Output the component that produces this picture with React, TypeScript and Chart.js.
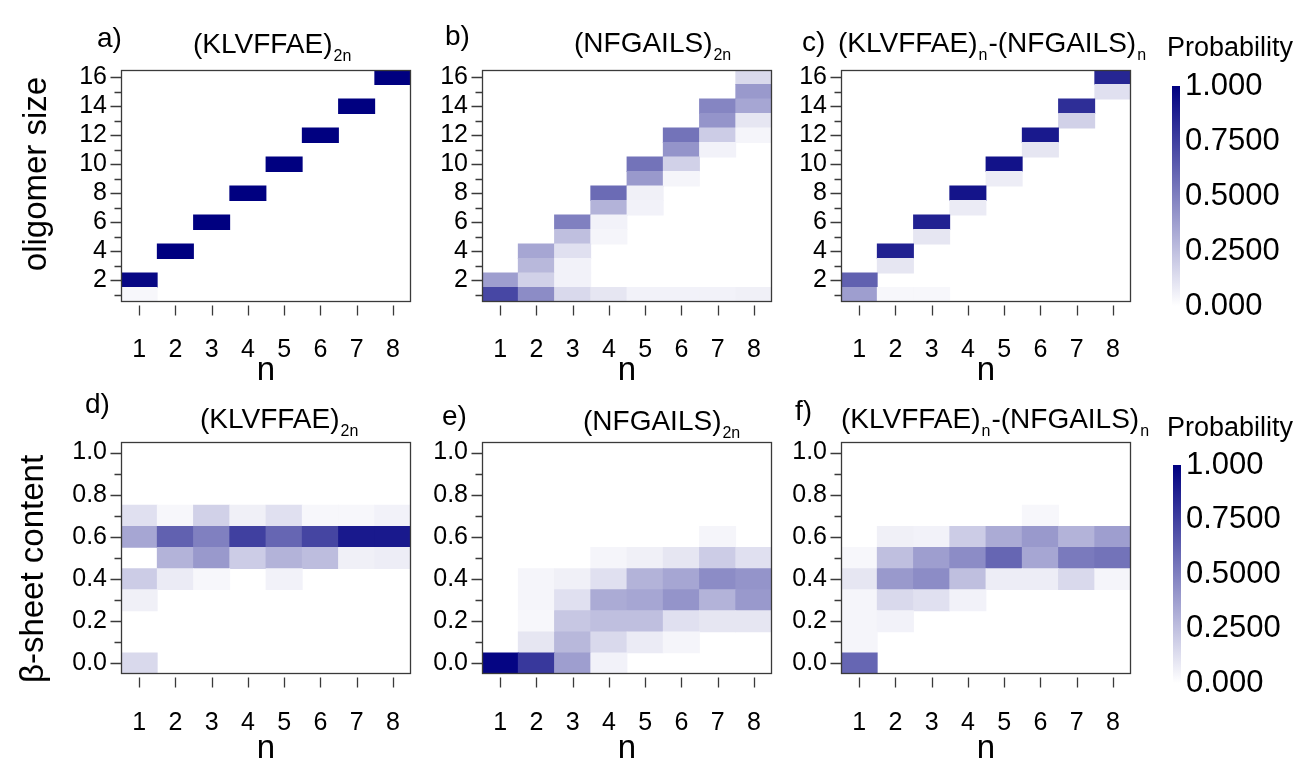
import React, { useEffect, useRef } from 'react';
import { Chart, registerables } from 'chart.js';

Chart.register(...registerables);

const FONT = "'Liberation Sans', Arial, Helvetica, sans-serif";
const TEXT_COLOR = '#000000';
const AXIS_COLOR = '#3a3a3a';

// ---- axes / categories ----
const nValues = ['1', '2', '3', '4', '5', '6', '7', '8'];
const sizeBins = [1, 2, 3, 4, 5, 6, 7, 8, 9, 10, 11, 12, 13, 14, 15, 16];
const sizeTicks = [2, 4, 6, 8, 10, 12, 14, 16];
const sizeMinorTicks = [1, 3, 5, 7, 9, 11, 13, 15];
const betaBins = [0, 0.1, 0.2, 0.3, 0.4, 0.5, 0.6, 0.7, 0.8, 0.9, 1.0];
const betaTicks = [0, 0.2, 0.4, 0.6, 0.8, 1.0];
const betaMinorTicks = [0.1, 0.3, 0.5, 0.7, 0.9];
const probTicks = [0, 0.25, 0.5, 0.75, 1];
const probTickLabels = ['0.000', '0.2500', '0.5000', '0.7500', '1.000'];

// ---- oligomer size probability: rows n = 1..8, columns size = 1..16 ----
const klvffaeSize = [
  [0.03, 0.97, 0, 0, 0, 0, 0, 0, 0, 0, 0, 0, 0, 0, 0, 0],
  [0, 0, 0, 1, 0, 0, 0, 0, 0, 0, 0, 0, 0, 0, 0, 0],
  [0, 0, 0, 0, 0, 1, 0, 0, 0, 0, 0, 0, 0, 0, 0, 0],
  [0, 0, 0, 0, 0, 0, 0, 1, 0, 0, 0, 0, 0, 0, 0, 0],
  [0, 0, 0, 0, 0, 0, 0, 0, 0, 1, 0, 0, 0, 0, 0, 0],
  [0, 0, 0, 0, 0, 0, 0, 0, 0, 0, 0, 1, 0, 0, 0, 0],
  [0, 0, 0, 0, 0, 0, 0, 0, 0, 0, 0, 0, 0, 1, 0, 0],
  [0, 0, 0, 0, 0, 0, 0, 0, 0, 0, 0, 0, 0, 0, 0, 1],
];
const nfgailsSize = [
  [0.72, 0.38, 0, 0, 0, 0, 0, 0, 0, 0, 0, 0, 0, 0, 0, 0],
  [0.45, 0.18, 0.28, 0.35, 0, 0, 0, 0, 0, 0, 0, 0, 0, 0, 0, 0],
  [0.15, 0.05, 0.05, 0.12, 0.25, 0.5, 0, 0, 0, 0, 0, 0, 0, 0, 0, 0],
  [0.1, 0, 0, 0, 0.04, 0.05, 0.3, 0.58, 0, 0, 0, 0, 0, 0, 0, 0],
  [0.05, 0, 0, 0, 0, 0, 0.05, 0.06, 0.4, 0.55, 0, 0, 0, 0, 0, 0],
  [0.05, 0, 0, 0, 0, 0, 0, 0, 0.04, 0.18, 0.42, 0.55, 0, 0, 0, 0],
  [0.05, 0, 0, 0, 0, 0, 0, 0, 0, 0, 0.05, 0.2, 0.42, 0.48, 0, 0],
  [0.06, 0, 0, 0, 0, 0, 0, 0, 0, 0, 0, 0.04, 0.1, 0.35, 0.4, 0.15],
];
const mixedSize = [
  [0.38, 0.62, 0, 0, 0, 0, 0, 0, 0, 0, 0, 0, 0, 0, 0, 0],
  [0.03, 0, 0.1, 0.87, 0, 0, 0, 0, 0, 0, 0, 0, 0, 0, 0, 0],
  [0.03, 0, 0, 0, 0.1, 0.87, 0, 0, 0, 0, 0, 0, 0, 0, 0, 0],
  [0, 0, 0, 0, 0, 0, 0.08, 0.92, 0, 0, 0, 0, 0, 0, 0, 0],
  [0, 0, 0, 0, 0, 0, 0, 0, 0.07, 0.93, 0, 0, 0, 0, 0, 0],
  [0, 0, 0, 0, 0, 0, 0, 0, 0, 0, 0.1, 0.9, 0, 0, 0, 0],
  [0, 0, 0, 0, 0, 0, 0, 0, 0, 0, 0, 0, 0.18, 0.82, 0, 0],
  [0, 0, 0, 0, 0, 0, 0, 0, 0, 0, 0, 0, 0, 0, 0.12, 0.85],
];

// ---- beta-sheet content probability: rows n = 1..8, columns 0.0..1.0 ----
const klvffaeBeta = [
  [0.15, 0, 0, 0.06, 0.2, 0, 0.35, 0.12, 0, 0, 0],
  [0, 0, 0, 0, 0.08, 0.3, 0.62, 0.03, 0, 0, 0],
  [0, 0, 0, 0, 0.03, 0.4, 0.5, 0.18, 0, 0, 0],
  [0, 0, 0, 0, 0, 0.2, 0.75, 0.06, 0, 0, 0],
  [0, 0, 0, 0, 0.05, 0.3, 0.6, 0.12, 0, 0, 0],
  [0, 0, 0, 0, 0, 0.26, 0.73, 0.03, 0, 0, 0],
  [0, 0, 0, 0, 0, 0.06, 0.9, 0.03, 0, 0, 0],
  [0, 0, 0, 0, 0, 0.07, 0.9, 0.05, 0, 0, 0],
];
const nfgailsBeta = [
  [0.98, 0, 0, 0, 0, 0, 0, 0, 0, 0, 0],
  [0.78, 0.1, 0.03, 0.04, 0.04, 0, 0, 0, 0, 0, 0],
  [0.38, 0.28, 0.22, 0.12, 0.06, 0, 0, 0, 0, 0, 0],
  [0.05, 0.15, 0.25, 0.33, 0.12, 0.04, 0, 0, 0, 0, 0],
  [0, 0.08, 0.25, 0.35, 0.3, 0.06, 0, 0, 0, 0, 0],
  [0, 0.04, 0.12, 0.42, 0.35, 0.1, 0, 0, 0, 0, 0],
  [0, 0, 0.1, 0.3, 0.45, 0.2, 0.04, 0, 0, 0, 0],
  [0, 0, 0.1, 0.4, 0.42, 0.12, 0, 0, 0, 0, 0],
];
const mixedBeta = [
  [0.6, 0.04, 0.04, 0.04, 0.1, 0.03, 0, 0, 0, 0, 0],
  [0, 0, 0.05, 0.15, 0.4, 0.25, 0.06, 0, 0, 0, 0],
  [0, 0, 0, 0.12, 0.45, 0.38, 0.05, 0, 0, 0, 0],
  [0, 0, 0, 0.05, 0.25, 0.45, 0.2, 0, 0, 0, 0],
  [0, 0, 0, 0, 0.07, 0.6, 0.33, 0, 0, 0, 0],
  [0, 0, 0, 0, 0.07, 0.35, 0.4, 0.03, 0, 0, 0],
  [0, 0, 0, 0, 0.15, 0.52, 0.3, 0, 0, 0, 0],
  [0, 0, 0, 0, 0.04, 0.55, 0.38, 0, 0, 0, 0],
];

// colour scale: white -> navy
function probColor(v: number): string {
  const t = Math.max(0, Math.min(1, v));
  const r = Math.round(255 * (1 - t));
  const b = Math.round(255 - 127 * t);
  return `rgb(${r},${r},${b})`;
}

type Part = [string, boolean];

type PanelSpec = {
  key: string;
  left: number; top: number; w: number; h: number;
  plotLeft: number; plotRight: number;
  padTop: number; padBottom: number; xHeight: number; xLabelPad: number;
  matrix: number[][]; bins: number[]; half: number;
  yMin: number; yMax: number; yTicks: number[]; yMinor: number[]; decimals: number;
  letter: string; letterX: number; letterY: number;
  title: Part[]; titleX: number; titleY: number;
  yTitle?: string; yTitleX?: number; yTitleY?: number;
  xTitleY: number;
};

const titleKLV: Part[] = [['(KLVFFAE)', false], ['2n', true]];
const titleNFG: Part[] = [['(NFGAILS)', false], ['2n', true]];
const titleMix: Part[] = [['(KLVFFAE)', false], ['n', true], ['-(NFGAILS)', false], ['n', true]];

const topRow = { top: 0, h: 390, padTop: 70, padBottom: 8, xHeight: 80, xLabelPad: 33, xTitleY: 380 };
const botRow = { top: 380, h: 391, padTop: 62, padBottom: 7, xHeight: 90, xLabelPad: 34, xTitleY: 758 };
const sizeAxis = { bins: sizeBins, half: 0.5, yMin: 0.5, yMax: 16.5, yTicks: sizeTicks, yMinor: sizeMinorTicks, decimals: 0 };
const betaAxis = { bins: betaBins, half: 0.05, yMin: -0.05, yMax: 1.05, yTicks: betaTicks, yMinor: betaMinorTicks, decimals: 1 };

const panels: PanelSpec[] = [
  { key: 'a', left: 0, w: 440, plotLeft: 121, plotRight: 411, ...topRow, ...sizeAxis, matrix: klvffaeSize,
    letter: 'a)', letterX: 97, letterY: 47, title: titleKLV, titleX: 193, titleY: 53,
    yTitle: 'oligomer size', yTitleX: 37, yTitleY: 174 },
  { key: 'b', left: 361, w: 440, plotLeft: 482, plotRight: 772, ...topRow, ...sizeAxis, matrix: nfgailsSize,
    letter: 'b)', letterX: 445, letterY: 45, title: titleNFG, titleX: 574, titleY: 52 },
  { key: 'c', left: 720, w: 440, plotLeft: 841, plotRight: 1131, ...topRow, ...sizeAxis, matrix: mixedSize,
    letter: 'c)', letterX: 802, letterY: 51, title: titleMix, titleX: 838, titleY: 52 },
  { key: 'd', left: 0, w: 440, plotLeft: 121, plotRight: 411, ...botRow, ...betaAxis, matrix: klvffaeBeta,
    letter: 'd)', letterX: 85, letterY: 413, title: titleKLV, titleX: 200, titleY: 428,
    yTitle: 'β-sheet content', yTitleX: 34, yTitleY: 569 },
  { key: 'e', left: 361, w: 440, plotLeft: 482, plotRight: 772, ...botRow, ...betaAxis, matrix: nfgailsBeta,
    letter: 'e)', letterX: 442, letterY: 425, title: titleNFG, titleX: 583, titleY: 430 },
  { key: 'f', left: 720, w: 440, plotLeft: 841, plotRight: 1131, ...botRow, ...betaAxis, matrix: mixedBeta,
    letter: 'f)', letterX: 795, letterY: 420, title: titleMix, titleX: 841, titleY: 428 },
];

type BarSpec = { key: string; left: number; top: number; w: number; h: number; barLeft: number; barRight: number; zeroY: number; oneY: number; titleY: number };
const colorbars: BarSpec[] = [
  { key: 'cb1', left: 1150, top: 0, w: 161, h: 390, barLeft: 1172, barRight: 1180, zeroY: 306, oneY: 86, titleY: 56 },
  { key: 'cb2', left: 1150, top: 380, w: 161, h: 391, barLeft: 1173, barRight: 1181, zeroY: 683, oneY: 465, titleY: 436 },
];

const TITLE_SIZE = 28;
const SUB_SIZE = 16;
const TICK_SIZE = 25;
const AXIS_TITLE_SIZE = 33;

function drawParts(ctx: CanvasRenderingContext2D, parts: Part[], x: number, y: number) {
  let cx = x;
  ctx.textAlign = 'left';
  ctx.textBaseline = 'alphabetic';
  for (const [t, sub] of parts) {
    const fs = sub ? SUB_SIZE : TITLE_SIZE;
    ctx.font = `${fs}px ${FONT}`;
    if (sub) cx += 1;
    ctx.fillText(t, cx, sub ? y + 8 : y);
    cx += ctx.measureText(t).width + (sub ? 1 : 0);
  }
}

function decorPlugin(p: PanelSpec) {
  return {
    id: 'decor_' + p.key,
    afterDraw(chart: any) {
      const { ctx, chartArea: a, scales } = chart;
      const xs = scales.x;
      const ys = scales.y;
      ctx.save();
      ctx.strokeStyle = AXIS_COLOR;
      ctx.lineWidth = 1.3;
      const L = Math.round(a.left) + 0.5;
      const R = Math.round(a.right) - 0.5;
      const T = Math.round(a.top) + 0.5;
      const B = Math.round(a.bottom) - 0.5;
      ctx.strokeRect(L, T, R - L, B - T);
      ctx.beginPath();
      p.yTicks.forEach((v) => {
        const py = Math.round(ys.getPixelForValue(v)) + 0.5;
        ctx.moveTo(L - 11, py);
        ctx.lineTo(L, py);
      });
      p.yMinor.forEach((v) => {
        const py = Math.round(ys.getPixelForValue(v)) + 0.5;
        ctx.moveTo(L - 7, py);
        ctx.lineTo(L, py);
      });
      nValues.forEach((_, i) => {
        const px = Math.round(xs.getPixelForValue(i)) + 0.5;
        ctx.moveTo(px, B + 4);
        ctx.lineTo(px, B + 14);
      });
      ctx.stroke();

      ctx.fillStyle = TEXT_COLOR;
      const ox = p.left;
      const oy = p.top;
      // panel letter
      ctx.font = `${TITLE_SIZE}px ${FONT}`;
      ctx.textAlign = 'left';
      ctx.textBaseline = 'alphabetic';
      ctx.fillText(p.letter, p.letterX - ox, p.letterY - oy);
      // panel title with subscripts
      drawParts(ctx, p.title, p.titleX - ox, p.titleY - oy);
      // x title
      ctx.font = `${AXIS_TITLE_SIZE}px ${FONT}`;
      ctx.textAlign = 'center';
      ctx.fillText('n', (a.left + a.right) / 2, p.xTitleY - oy);
      // y title
      if (p.yTitle) {
        ctx.save();
        ctx.translate((p.yTitleX as number) - ox, (p.yTitleY as number) - oy);
        ctx.rotate(-Math.PI / 2);
        ctx.textAlign = 'center';
        ctx.textBaseline = 'middle';
        ctx.fillText(p.yTitle, 0, 0);
        ctx.restore();
      }
      ctx.restore();
    },
  };
}

function heatConfig(p: PanelSpec): any {
  const datasets = p.bins.map((b, j) => ({
    data: nValues.map((_, i) => (p.matrix[i][j] > 0 ? [b - p.half, b + p.half] : null)),
    backgroundColor: nValues.map((_, i) => probColor(p.matrix[i][j])),
    borderWidth: 0,
    grouped: false,
    barPercentage: 1,
    categoryPercentage: 1,
    inflateAmount: 0.4,
  }));
  const yWidth = p.plotLeft - p.left;
  const padRight = p.w - (p.plotRight - p.left);
  return {
    type: 'bar',
    data: { labels: nValues, datasets },
    plugins: [decorPlugin(p)],
    options: {
      animation: false,
      responsive: false,
      maintainAspectRatio: false,
      events: [],
      layout: { padding: { left: 0, right: padRight, top: p.padTop, bottom: p.padBottom } },
      plugins: { legend: { display: false }, tooltip: { enabled: false }, title: { display: false } },
      scales: {
        x: {
          type: 'category',
          offset: true,
          grid: { display: false, drawTicks: false },
          border: { display: false },
          ticks: {
            font: { family: FONT, size: TICK_SIZE },
            color: TEXT_COLOR,
            padding: p.xLabelPad,
            maxRotation: 0,
            autoSkip: false,
          },
          afterFit: (s: any) => { s.height = p.xHeight; },
        },
        y: {
          type: 'linear',
          min: p.yMin,
          max: p.yMax,
          afterBuildTicks: (s: any) => { s.ticks = p.yTicks.map((v) => ({ value: v })); },
          grid: { display: false, drawTicks: false },
          border: { display: false },
          ticks: {
            font: { family: FONT, size: TICK_SIZE },
            color: TEXT_COLOR,
            padding: 14,
            callback: (v: any) => Number(v).toFixed(p.decimals),
          },
          afterFit: (s: any) => { s.width = yWidth; },
        },
      },
    },
  };
}

function colorbarConfig(c: BarSpec): any {
  const padLeft = c.barLeft - c.left;
  const yWidth = c.w - (c.barRight - c.left);
  return {
    type: 'bar',
    data: {
      labels: ['p'],
      datasets: [{
        data: [[probTicks[0], probTicks[probTicks.length - 1]]],
        backgroundColor: (ctx: any) => {
          const chart = ctx.chart;
          if (!chart.chartArea) return probColor(1);
          const ys = chart.scales.y;
          const g = chart.ctx.createLinearGradient(0, ys.getPixelForValue(0), 0, ys.getPixelForValue(1));
          g.addColorStop(0, probColor(0));
          g.addColorStop(1, probColor(1));
          return g;
        },
        borderWidth: 0,
        barPercentage: 1,
        categoryPercentage: 1,
      }],
    },
    plugins: [{
      id: 'cbtitle_' + c.key,
      afterDraw(chart: any) {
        const ctx = chart.ctx;
        ctx.save();
        ctx.fillStyle = TEXT_COLOR;
        ctx.font = `27px ${FONT}`;
        ctx.textAlign = 'left';
        ctx.textBaseline = 'alphabetic';
        ctx.fillText('Probability', 1167 - c.left, c.titleY - c.top);
        ctx.restore();
      },
    }],
    options: {
      animation: false,
      responsive: false,
      maintainAspectRatio: false,
      events: [],
      layout: { padding: { left: padLeft, right: 0, top: c.oneY - c.top, bottom: c.h - (c.zeroY - c.top) } },
      plugins: { legend: { display: false }, tooltip: { enabled: false } },
      scales: {
        x: { type: 'category', display: false },
        y: {
          type: 'linear',
          position: 'right',
          min: 0,
          max: 1,
          afterBuildTicks: (s: any) => { s.ticks = probTicks.map((v) => ({ value: v })); },
          grid: { display: false, drawTicks: false },
          border: { display: false },
          ticks: {
            font: { family: FONT, size: 31 },
            color: TEXT_COLOR,
            padding: 5,
            callback: (v: any) => {
              const i = probTicks.indexOf(Number(v));
              return i >= 0 ? probTickLabels[i] : '';
            },
          },
          afterFit: (s: any) => { s.width = yWidth; },
        },
      },
    },
  };
}

export default function App() {
  const panelRefs = useRef<(HTMLCanvasElement | null)[]>([]);
  const barRefs = useRef<(HTMLCanvasElement | null)[]>([]);

  useEffect(() => {
    const charts: Chart[] = [];
    panels.forEach((p, i) => {
      const el = panelRefs.current[i];
      if (el) charts.push(new Chart(el, heatConfig(p)));
    });
    colorbars.forEach((c, i) => {
      const el = barRefs.current[i];
      if (el) charts.push(new Chart(el, colorbarConfig(c)));
    });
    return () => { charts.forEach((c) => c.destroy()); };
  }, []);

  return (
    <div style={{ position: 'absolute', left: 0, top: 0, width: 1311, height: 771, background: '#ffffff', overflow: 'hidden' }}>
      {panels.map((p, i) => (
        <canvas
          key={p.key}
          ref={(el) => { panelRefs.current[i] = el; }}
          width={p.w}
          height={p.h}
          style={{ position: 'absolute', left: p.left, top: p.top, width: p.w, height: p.h }}
        />
      ))}
      {colorbars.map((c, i) => (
        <canvas
          key={c.key}
          ref={(el) => { barRefs.current[i] = el; }}
          width={c.w}
          height={c.h}
          style={{ position: 'absolute', left: c.left, top: c.top, width: c.w, height: c.h }}
        />
      ))}
    </div>
  );
}
